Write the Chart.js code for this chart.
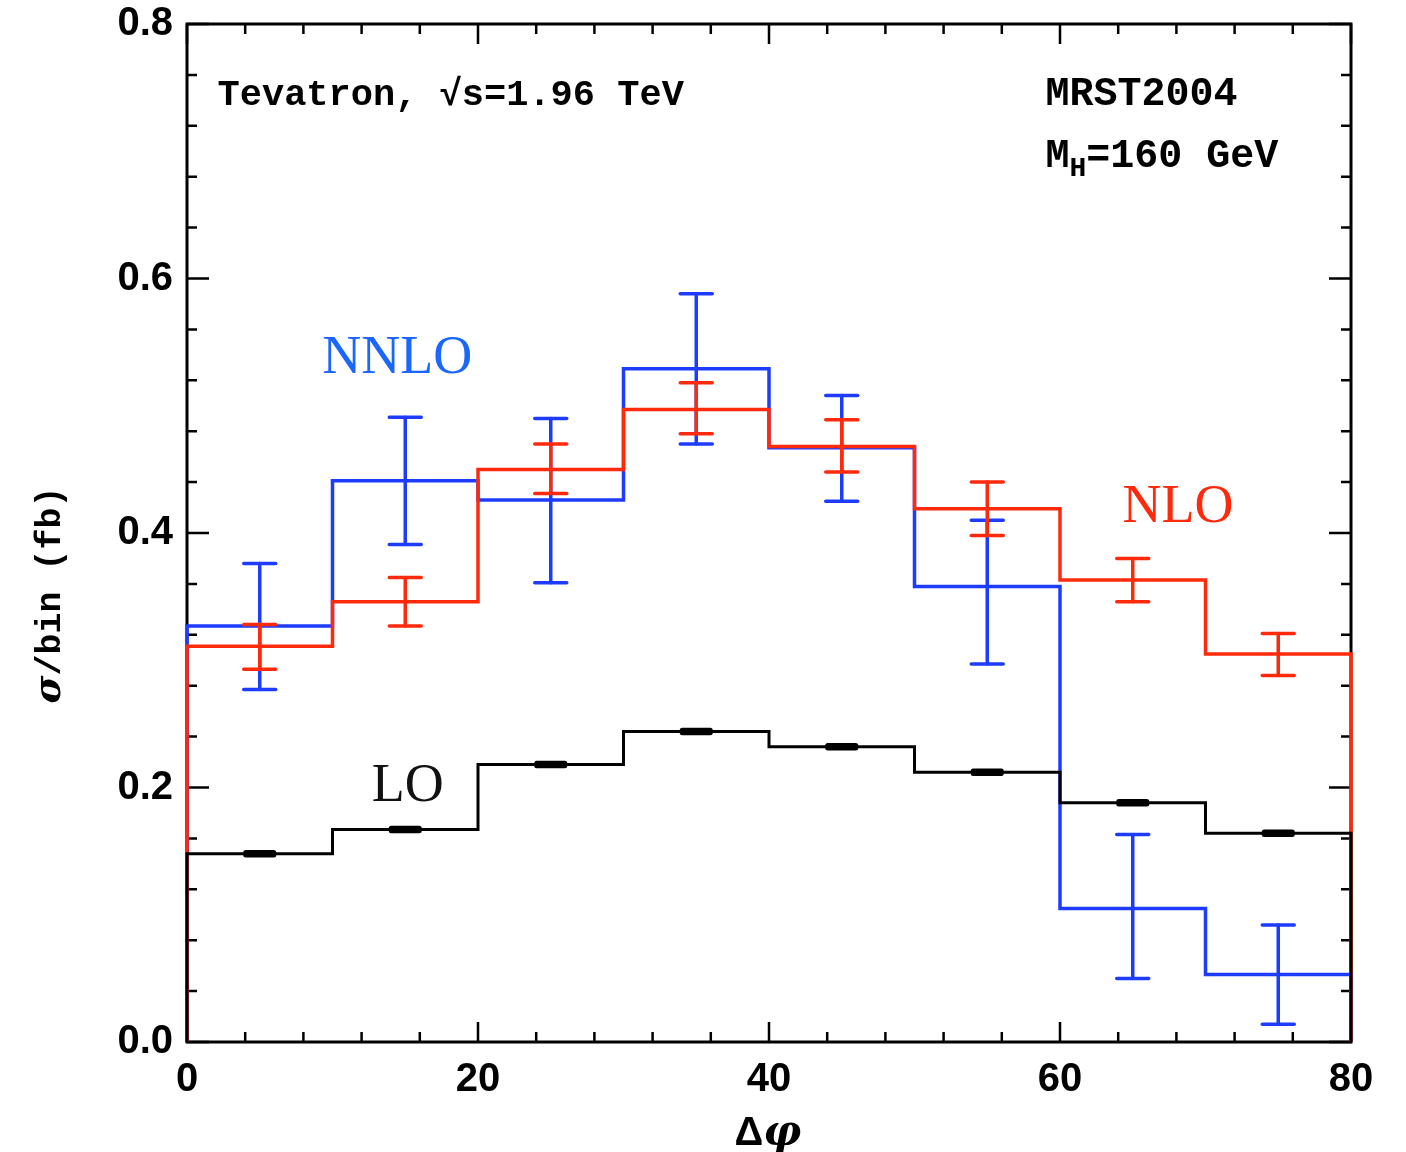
<!DOCTYPE html>
<html>
<head>
<meta charset="utf-8">
<script src="https://cdn.jsdelivr.net/npm/chart.js@4.4.0/dist/chart.umd.min.js"></script>
<style>
  html, body { margin: 0; padding: 0; background: #fff; }
  #wrap { width: 1406px; height: 1152px; }
</style>
</head>
<body>
<div id="wrap"><canvas id="chart" width="1406" height="1152"></canvas></div>
<script>
// bin edges in delta phi (degrees)
const binEdges = [0, 10, 20, 30, 40, 50, 60, 70, 80];

// sigma per bin (fb)
const loValues   = [0.148, 0.167, 0.218, 0.244, 0.232, 0.212, 0.188, 0.164];
const nloValues  = [0.311, 0.346, 0.450, 0.497, 0.468, 0.419, 0.363, 0.305];
const nnloValues = [0.327, 0.441, 0.426, 0.529, 0.467, 0.358, 0.105, 0.053];

// error bar ends (lower / upper)
const loLow    = [0.147, 0.166, 0.217, 0.243, 0.231, 0.211, 0.187, 0.163];
const loHigh   = [0.149, 0.168, 0.219, 0.245, 0.233, 0.213, 0.189, 0.165];
const nloLow   = [0.293, 0.327, 0.431, 0.478, 0.448, 0.398, 0.346, 0.288];
const nloHigh  = [0.328, 0.365, 0.470, 0.518, 0.489, 0.440, 0.380, 0.321];
const nnloLow  = [0.277, 0.391, 0.361, 0.470, 0.425, 0.297, 0.050, 0.014];
const nnloHigh = [0.376, 0.491, 0.490, 0.588, 0.508, 0.410, 0.163, 0.092];

// axis ticks
const xMajorTicks = [0, 20, 40, 60, 80];
const xMinorTicks = [4, 8, 12, 16, 24, 28, 32, 36, 44, 48, 52, 56, 64, 68, 72, 76];
const yMajorTicks = [0, 0.2, 0.4, 0.6, 0.8];
const yMinorTicks = [0.04, 0.08, 0.12, 0.16, 0.24, 0.28, 0.32, 0.36, 0.44, 0.48, 0.52, 0.56, 0.64, 0.68, 0.72, 0.76];

const BLUE = '#1e3cff';
const RED = '#ff2a0c';
const BLACK = '#000000';

// histogram outline, closed down to zero at both ends
function stepPoints(values) {
  const pts = [{ x: binEdges[0], y: 0 }];
  values.forEach((v, i) => pts.push({ x: binEdges[i], y: v }));
  pts.push({ x: binEdges[binEdges.length - 1], y: values[values.length - 1] });
  pts.push({ x: binEdges[binEdges.length - 1], y: 0 });
  return pts;
}

function binCentres() {
  return binEdges.slice(0, -1).map((e, i) => (e + binEdges[i + 1]) / 2);
}

const errorSets = {
  LO: { low: loLow, high: loHigh, color: BLACK, cap: 28, capWidth: 5, width: 3 },
  NLO: { low: nloLow, high: nloHigh, color: RED, cap: 32, capWidth: 3.5, width: 3.5 },
  NNLO: { low: nnloLow, high: nnloHigh, color: BLUE, cap: 32, capWidth: 3.5, width: 3.5 },
};

const errorBarPlugin = {
  id: 'errorBars',
  afterDatasetDraw(chart, args) {
    const ds = chart.data.datasets[args.index];
    const err = errorSets[ds.label];
    if (!err) return;
    const { ctx, scales: { x, y } } = chart;
    ctx.save();
    ctx.strokeStyle = err.color;
    ctx.lineCap = 'round';
    binCentres().forEach((c, i) => {
      const px = x.getPixelForValue(c);
      const yl = y.getPixelForValue(err.low[i]);
      const yh = y.getPixelForValue(err.high[i]);
      ctx.lineWidth = err.width;
      ctx.beginPath();
      ctx.moveTo(px, yl);
      ctx.lineTo(px, yh);
      ctx.stroke();
      ctx.lineWidth = err.capWidth;
      ctx.beginPath();
      ctx.moveTo(px - err.cap / 2, yl);
      ctx.lineTo(px + err.cap / 2, yl);
      ctx.moveTo(px - err.cap / 2, yh);
      ctx.lineTo(px + err.cap / 2, yh);
      ctx.stroke();
    });
    ctx.restore();
  },
};

const framePlugin = {
  id: 'frame',
  beforeDatasetsDraw(chart) {
    const { ctx, chartArea: a, scales: { x, y } } = chart;
    ctx.save();
    ctx.strokeStyle = '#000';
    ctx.lineWidth = 3;
    ctx.strokeRect(a.left, a.top, a.right - a.left, a.bottom - a.top);
    ctx.lineWidth = 2.5;
    ctx.beginPath();
    const tick = (list, len) => {
      list.forEach((v) => {
        const px = x.getPixelForValue(v);
        ctx.moveTo(px, a.bottom); ctx.lineTo(px, a.bottom - len);
        ctx.moveTo(px, a.top); ctx.lineTo(px, a.top + len);
      });
    };
    const ytick = (list, len) => {
      list.forEach((v) => {
        const py = y.getPixelForValue(v);
        ctx.moveTo(a.left, py); ctx.lineTo(a.left + len, py);
        ctx.moveTo(a.right, py); ctx.lineTo(a.right - len, py);
      });
    };
    tick(xMajorTicks, 20);
    tick(xMinorTicks, 10);
    ytick(yMajorTicks, 22);
    ytick(yMinorTicks, 10);
    ctx.stroke();
    ctx.restore();
  },
  afterDraw(chart) {
    const { ctx, scales: { x, y } } = chart;
    ctx.save();
    ctx.fillStyle = '#000';
    ctx.textBaseline = 'alphabetic';
    ctx.textAlign = 'left';

    // annotations
    ctx.font = 'bold 37px "Liberation Mono", "DejaVu Sans Mono", monospace';
    ctx.fillText('Tevatron, \u221As=1.96 TeV', x.getPixelForValue(2.1), y.getPixelForValue(0.736));
    const mono = 'bold 40px "Liberation Mono", "DejaVu Sans Mono", monospace';
    ctx.font = mono;
    ctx.fillText('MRST2004', x.getPixelForValue(59.0), y.getPixelForValue(0.736));
    let px = x.getPixelForValue(59.0);
    const py = y.getPixelForValue(0.688);
    ctx.fillText('M', px, py);
    px += ctx.measureText('M').width;
    ctx.font = 'bold 28px "Liberation Mono", "DejaVu Sans Mono", monospace';
    ctx.fillText('H', px, py + 9);
    px += ctx.measureText('H').width;
    ctx.font = mono;
    ctx.fillText('=160 GeV', px, py);

    // series labels
    ctx.font = '54px "Liberation Serif", "DejaVu Serif", serif';
    ctx.fillStyle = '#1a66ff';
    ctx.fillText('NNLO', x.getPixelForValue(9.3), y.getPixelForValue(0.526));
    ctx.fillStyle = RED;
    ctx.fillText('NLO', x.getPixelForValue(64.3), y.getPixelForValue(0.409));
    ctx.fillStyle = '#111';
    ctx.fillText('LO', x.getPixelForValue(12.7), y.getPixelForValue(0.189));

    // axis titles (mixed italic greek)
    ctx.fillStyle = '#000';
    const drawMixed = (parts, cx, cy) => {
      let w = 0;
      parts.forEach((p) => { ctx.font = p[1]; w += ctx.measureText(p[0]).width; });
      let xx = cx - w / 2;
      parts.forEach((p) => {
        ctx.font = p[1];
        ctx.fillText(p[0], xx, cy);
        xx += ctx.measureText(p[0]).width;
      });
    };
    drawMixed([['\u0394', 'bold 40px "Liberation Sans", "DejaVu Sans", sans-serif'],
               ['\u03C6', 'italic bold 42px "DejaVu Serif", "Liberation Serif", serif']], 768, 1145);
    ctx.save();
    ctx.translate(60, 595);
    ctx.rotate(-Math.PI / 2);
    drawMixed([['\u03C3', 'italic bold 38px "DejaVu Serif", "Liberation Serif", serif'],
               ['/bin (fb)', 'bold 35px "Liberation Mono", "DejaVu Sans Mono", monospace']], 0, 0);
    ctx.restore();
    ctx.restore();
  },
};

const chart = new Chart(document.getElementById('chart').getContext('2d'), {
  type: 'line',
  data: {
    datasets: [
      { label: 'LO', data: stepPoints(loValues), borderColor: BLACK, borderWidth: 3, stepped: 'before', pointRadius: 0, clip: false, fill: false },
      { label: 'NLO', data: stepPoints(nloValues), borderColor: RED, borderWidth: 3.5, stepped: 'before', pointRadius: 0, clip: false, fill: false },
      { label: 'NNLO', data: stepPoints(nnloValues), borderColor: BLUE, borderWidth: 3.5, stepped: 'before', pointRadius: 0, clip: false, fill: false },
    ],
  },
  options: {
    responsive: false,
    animation: false,
    layout: { padding: { top: 24, right: 55, left: 0, bottom: 0 } },
    plugins: { legend: { display: false }, tooltip: { enabled: false } },
    scales: {
      x: {
        type: 'linear',
        min: 0,
        max: 80,
        grid: { display: false, drawTicks: false },
        border: { display: false },
        afterFit: (scale) => { scale.height = 110; scale.paddingLeft = 0; scale.paddingRight = 0; },
        afterBuildTicks: (scale) => { scale.ticks = xMajorTicks.map((v) => ({ value: v })); },
        ticks: {
          color: '#000',
          padding: 14,
          maxRotation: 0,
          font: { family: '"Liberation Sans", "DejaVu Sans", sans-serif', size: 40, weight: 'bold' },
          callback: (v) => String(v),
        },
      },
      y: {
        type: 'linear',
        min: 0,
        max: 0.8,
        grid: { display: false, drawTicks: false },
        border: { display: false },
        afterFit: (scale) => { scale.width = 187; scale.paddingTop = 0; scale.paddingBottom = 0; },
        afterBuildTicks: (scale) => { scale.ticks = yMajorTicks.map((v) => ({ value: v })); },
        ticks: {
          color: '#000',
          padding: 14,
          font: { family: '"Liberation Sans", "DejaVu Sans", sans-serif', size: 40, weight: 'bold' },
          callback: (v) => Number(v).toFixed(1),
        },
      },
    },
  },
  plugins: [errorBarPlugin, framePlugin],
});
</script>
</body>
</html>
